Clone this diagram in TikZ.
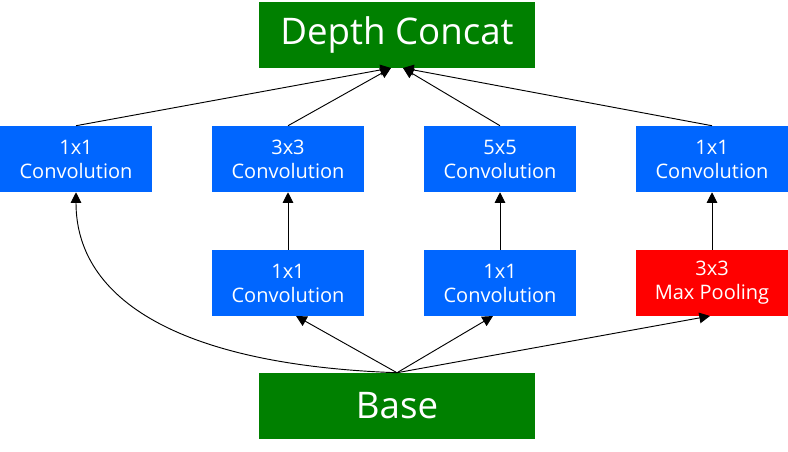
\documentclass[tikz,border=0pt]{standalone}
\usepackage{fontspec}
\setmainfont{Open Sans}
\usetikzlibrary{arrows.meta}
\definecolor{boxgreen}{RGB}{0,128,0}
\definecolor{boxblue}{RGB}{0,102,255}
\definecolor{boxred}{RGB}{255,0,0}
\tikzset{
  bigbox/.style={draw=none, fill=boxgreen, text=white, inner sep=0pt,
    minimum width=207pt, minimum height=49.5pt, font=\fontsize{27.5}{32}\selectfont},
  convbox/.style={draw=none, fill=boxblue, text=white, inner sep=0pt, align=center,
    minimum width=114pt, minimum height=49.5pt, font=\fontsize{15}{18}\selectfont},
  poolbox/.style={convbox, fill=boxred},
  arr/.style={line width=0.7pt, -{Triangle[length=8pt,width=8pt]}}
}
\begin{document}
\begin{tikzpicture}[x=0.75pt,y=-0.75pt]
\useasboundingbox (0,0) rectangle (788,452);
\node[bigbox] (concat) at (397,35) {Depth Concat};
\node[bigbox] (base) at (397,406) {Base};
\node[convbox] (c1) at (76,159) {1x1\\Convolution};
\node[convbox] (c2) at (288,159) {3x3\\Convolution};
\node[convbox] (c3) at (500,159) {5x5\\Convolution};
\node[convbox] (c4) at (712,159) {1x1\\Convolution};
\node[convbox] (r2) at (288,283) {1x1\\Convolution};
\node[convbox] (r3) at (500,283) {1x1\\Convolution};
\node[poolbox] (mp) at (712,283) {3x3\\Max Pooling};
\coordinate (inL) at (391,68);
\coordinate (inR) at (403,68);
\coordinate (r2in) at (296,316);
\coordinate (r3in) at (493,316);
\coordinate (mpin) at (710,316);
\draw[arr] (c1.north) -- (inL);
\draw[arr] (c2.north) -- (inL);
\draw[arr] (c3.north) -- (inR);
\draw[arr] (c4.north) -- (inR);
\draw[arr] (r2.north) -- (c2.south);
\draw[arr] (r3.north) -- (c3.south);
\draw[arr] (mp.north) -- (c4.south);
\draw[arr] (base.north) -- (r2in);
\draw[arr] (base.north) -- (r3in);
\draw[arr] (base.north) -- (mpin);
\draw[arr] (base.north) .. controls (180,365) and (76,300) .. (c1.south);
\end{tikzpicture}
\end{document}
